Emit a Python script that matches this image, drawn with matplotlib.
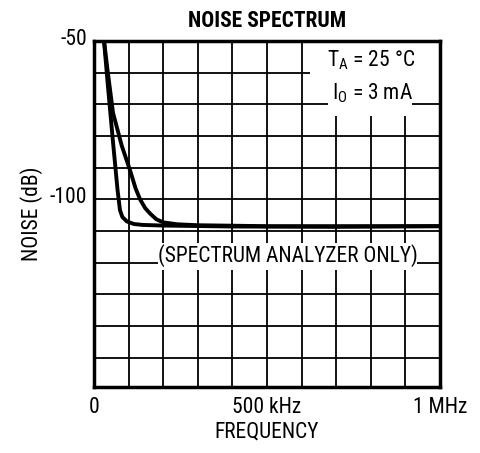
import matplotlib
matplotlib.use("Agg")
import matplotlib.pyplot as plt
from matplotlib import font_manager as fm
from matplotlib.patches import Rectangle
from matplotlib.transforms import ScaledTranslation

entries = fm.fontManager.ttflist
def has_bold(n):
    return any(e.name == n and (e.weight in ('bold', 'semibold', 'demibold') or (isinstance(e.weight, int) and e.weight >= 600)) for e in entries)
def has_regular(n):
    return any(e.name == n and (e.weight in ('normal', 'regular', 'book', 'medium', 400, 500)) for e in entries)
names = sorted({e.name for e in entries})
pref = ['Liberation Sans Narrow', 'Arial Narrow', 'Roboto Condensed', 'Open Sans Condensed', 'Noto Sans Condensed']
cands = [n for n in pref if n in names] + [n for n in names if ('Narrow' in n or 'Condensed' in n) and 'Mono' not in n and 'Serif' not in n and 'Light' not in n and 'Thin' not in n]
good = [n for n in cands if has_regular(n) and has_bold(n)]
narrow = good[:1] if good else cands[:1]
fam = narrow + ['Liberation Sans', 'DejaVu Sans']
plt.rcParams['font.family'] = fam
FS = 15.5 if narrow else 13

# Data (frequency in kHz, noise in dB)
curve1_f = [29, 40, 55, 68, 75, 82, 95, 115, 140, 200, 400, 700, 1000]
curve1_n = [-50, -64, -82, -97, -103.4, -105.6, -107.0, -107.8, -108.1, -108.3, -108.6, -108.7, -108.5]
curve2_f = [29, 40, 55, 80, 104, 120, 133, 148, 162, 180, 200, 240, 300, 500, 1000]
curve2_n = [-50, -60, -72.7, -83, -90.8, -96.5, -100, -102.8, -104.5, -106.3, -107.3, -107.9, -108.2, -108.5, -108.5]

x_ticks = [0, 500, 1000]
x_ticklabels = ['0', '500 kHz', '1 MHz']
y_ticks = [-50, -100]
y_ticklabels = ['-50', '-100']

fig = plt.figure(figsize=(4.8, 4.53), dpi=100)
ax = fig.add_axes([94/480, 1-387/453, 346/480, 346/453])

ax.set_xlim(0, 1000)
ax.set_ylim(-159.3, -50)

# grid
for gx in range(100, 1000, 100):
    ax.axvline(gx, color='black', lw=1.3, zorder=1)
for gy in range(-60, -159, -10):
    ax.axhline(gy, color='black', lw=1.3, zorder=1)

ax.plot(curve1_f, curve1_n, color='black', lw=2.8, zorder=4, solid_capstyle='butt')
ax.plot(curve2_f, curve2_n, color='black', lw=2.8, zorder=4, solid_capstyle='butt')

ax.set_xticks(x_ticks)
ax.set_xticklabels(x_ticklabels)
ax.set_yticks(y_ticks)
ax.set_yticklabels(y_ticklabels)
ax.tick_params(length=0, labelsize=FS)
ax.tick_params(axis='y', pad=5)
ax.tick_params(axis='x', pad=7)
off = ScaledTranslation(0, 3/72, fig.dpi_scale_trans)
for lab in ax.get_yticklabels():
    lab.set_transform(lab.get_transform() + off)

for s in ax.spines.values():
    s.set_linewidth(2.5)
    s.set_zorder(5)

ax.set_xlabel('FREQUENCY', fontsize=FS, labelpad=3)
ax.set_ylabel('NOISE (dB)', fontsize=FS, labelpad=5)
ax.set_title('NOISE SPECTRUM', fontsize=FS, fontweight='bold', pad=10)

# white masks behind the annotations (axes fraction)
for (x0, x1, y0, y1) in [(0.624, 1.0, 0.858, 1.0), (0.676, 0.919, 0.783, 1.0), (0.185, 0.934, 0.338, 0.416)]:
    ax.add_patch(Rectangle((x0, y0), x1 - x0, y1 - y0, transform=ax.transAxes,
                           facecolor='white', edgecolor='none', zorder=2))

ax.text(0.802, 0.945, r'T$_\mathregular{A}$ = 25 °C', transform=ax.transAxes, ha='center', va='center', fontsize=FS, zorder=3)
ax.text(0.805, 0.850, r'I$_\mathregular{O}$ = 3 mA', transform=ax.transAxes, ha='center', va='center', fontsize=FS, zorder=3)
ax.text(0.561, 0.381, '(SPECTRUM ANALYZER ONLY)', transform=ax.transAxes, ha='center', va='center', fontsize=FS, zorder=3)

fig.savefig('out.png', dpi=100)
